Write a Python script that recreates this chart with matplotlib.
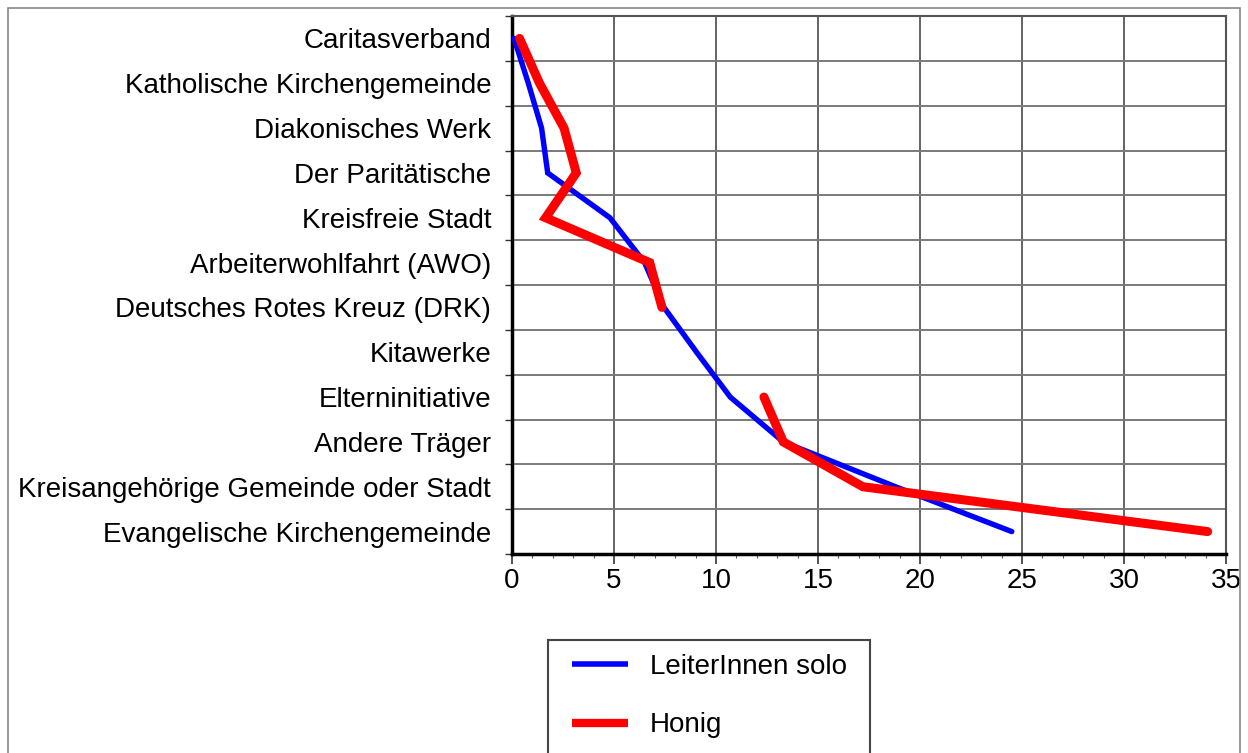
import numpy as np
import matplotlib.pyplot as plt
from matplotlib.patches import Rectangle

plt.rcParams['font.family'] = ['Liberation Sans', 'DejaVu Sans']

# Traeger-Kategorien (von oben nach unten)
categories = [
    'Caritasverband',
    'Katholische Kirchengemeinde',
    'Diakonisches Werk',
    'Der Paritätische',
    'Kreisfreie Stadt',
    'Arbeiterwohlfahrt (AWO)',
    'Deutsches Rotes Kreuz (DRK)',
    'Kitawerke',
    'Elterninitiative',
    'Andere Träger',
    'Kreisangehörige Gemeinde oder Stadt',
    'Evangelische Kirchengemeinde',
]

leiter_solo = [0.1, 0.8, 1.45, 1.75, 4.8, 6.5, 7.45, 9.05, 10.7, 13.3, 18.8, 24.5]
honig = [0.37, 1.35, 2.55, 3.15, 1.65, 6.75, 7.35, np.nan, 12.35, 13.3, 17.2, 34.1]

x_ticks = [0, 5, 10, 15, 20, 25, 30, 35]

W, H = 1248, 753
fig = plt.figure(figsize=(W / 100, H / 100), dpi=100)
ax = fig.add_axes([512 / W, 1 - 554 / H, (1226 - 512) / W, (554 - 16) / H])

y = np.arange(len(categories))
ax.plot(leiter_solo, y, color='#0000ff', lw=3.9, solid_capstyle='round',
        solid_joinstyle='miter', label='LeiterInnen solo', zorder=3)
ax.plot(honig, y, color='#ff0000', lw=6.5, solid_capstyle='round',
        solid_joinstyle='miter', label='Honig', zorder=4)

ax.set_xlim(0, 35)
ax.set_ylim(len(categories) - 0.5, -0.5)

ax.set_xticks(x_ticks)
ax.set_xticklabels([str(t) for t in x_ticks], fontsize=20)
ax.set_xticks(np.arange(0, 36, 1), minor=True)

ax.set_yticks(y)
ax.set_yticklabels(categories, fontsize=20)
ax.set_yticks(np.arange(-0.5, len(categories), 1), minor=True)

ax.tick_params(axis='y', which='major', length=0, pad=15)
ax.tick_params(axis='y', which='minor', length=5, width=1, color='#333333')
ax.tick_params(axis='x', which='major', length=7, width=1.2, color='#333333', pad=3)
ax.tick_params(axis='x', which='minor', length=3, width=0.8, color='#555555')

ax.grid(True, axis='x', which='major', color='#4a4a4a', lw=1.2)
ax.grid(True, axis='y', which='minor', color='#7a7a7a', lw=1.4)
ax.set_axisbelow(True)

for side in ['left', 'bottom']:
    ax.spines[side].set_linewidth(2.5)
    ax.spines[side].set_color('black')
for side in ['top', 'right']:
    ax.spines[side].set_linewidth(1.5)
    ax.spines[side].set_color('#555555')

# Legende ohne eigenen Rahmen, Rahmen separat (unten abgeschnitten wie im Original)
leg = fig.legend(loc='upper left', bbox_to_anchor=(572 / W, 1 - 654 / H),
                 fontsize=20, frameon=False,
                 handlelength=2.0, handletextpad=0.8, labelspacing=1.16,
                 borderpad=0, borderaxespad=0)
for line, lw in zip(leg.get_lines(), [4, 6]):
    line.set_linewidth(lw)
    line.set_solid_capstyle('butt')

fig.patches.append(Rectangle((548 / W, -0.01), (870 - 548) / W, (753 - 640) / H + 0.01,
                             transform=fig.transFigure, fill=False,
                             edgecolor='#444444', lw=1.5))

# Rahmen um die ganze Grafik
fig.patches.append(Rectangle((8 / W, -0.01), (1240 - 8) / W, 1 - 8 / H + 0.01,
                             transform=fig.transFigure, fill=False,
                             edgecolor='#888888', lw=1.2))

fig.savefig('out.png', dpi=100)
